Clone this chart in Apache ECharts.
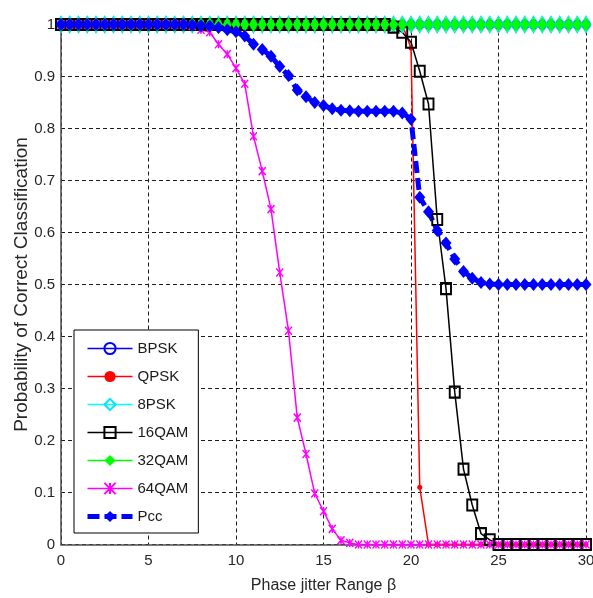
<!DOCTYPE html>
<html>
<head>
<meta charset="utf-8">
<script src="https://cdn.jsdelivr.net/npm/echarts@6/dist/echarts.min.js"></script>
<style>
html,body{margin:0;padding:0;background:#fff;}
#chart{width:593px;height:598px;}
</style>
</head>
<body>
<div id="chart"></div>
<script>
// Phase jitter range (x positions of the data points)
const phaseJitter = [
  0,0.5,1,1.5,2,2.5,3,3.5,4,4.5,
  5,5.5,6,6.5,7,7.5,8,8.5,9,9.5,
  10,10.5,11,11.5,12,12.5,13,13.5,14,14.5,
  15,15.5,16,16.5,17,17.5,18,18.5,19,19.5,
  20,20.5,21,21.5,22,22.5,23,23.5,24,24.5,
  25,25.5,26,26.5,27,27.5,28,28.5,29,29.5,
  30
];
const seriesNames = ['BPSK','QPSK','8PSK','16QAM','32QAM','64QAM','Pcc'];
const bpsk = [
  1,1,1,1,1,1,1,1,1,1,
  1,1,1,1,1,1,1,1,1,1,
  1,1,1,1,1,1,1,1,1,1,
  1,1,1,1,1,1,1,1,1,1,
  1,1,1,1,1,1,1,1,1,1,
  1,1,1,1,1,1,1,1,1,1,
  1
];
const qpsk = [
  1,1,1,1,1,1,1,1,1,1,
  1,1,1,1,1,1,1,1,1,1,
  1,1,1,1,1,1,1,1,1,1,
  1,1,1,1,1,1,1,1,1,1,
  0.955,0.11,0,0,0,0,0,0,0,0,
  0,0,0,0,0,0,0,0,0,0,
  0
];
const psk8 = [
  1,1,1,1,1,1,1,1,1,1,
  1,1,1,1,1,1,1,1,1,1,
  1,1,1,1,1,1,1,1,1,1,
  1,1,1,1,1,1,1,1,1,1,
  1,1,1,1,1,1,1,1,1,1,
  1,1,1,1,1,1,1,1,1,1,
  1
];
const qam16 = [
  1,1,1,1,1,1,1,1,1,1,
  1,1,1,1,1,1,1,1,1,1,
  1,1,1,1,1,1,1,1,1,1,
  1,1,1,1,1,1,1,1,0.995,0.985,
  0.966,0.91,0.847,0.625,0.492,0.293,0.145,0.076,0.021,0.009,
  0,0,0,0,0,0,0,0,0,0,
  0
];
const qam32 = [
  1,1,1,1,1,1,1,1,1,1,
  1,1,1,1,1,1,1,1,1,1,
  1,1,1,1,1,1,1,1,1,1,
  1,1,1,1,1,1,1,1,1,1,
  1,1,1,1,1,1,1,1,1,1,
  1,1,1,1,1,1,1,1,1,1,
  1
];
const qam64 = [
  1,1,1,1,1,1,1,1,1,1,
  1,1,1,1,1,0.997,0.99,0.985,0.962,0.943,
  0.916,0.886,0.785,0.718,0.645,0.523,0.411,0.244,0.174,0.098,
  0.064,0.03,0.008,0.003,0,0,0,0,0,0,
  0,0,0,0,0,0,0,0,0,0,
  0,0,0,0,0,0,0,0,0,0,
  0
];
const pcc = [
  1,1,1,1,1,1,1,1,1,1,
  1,1,1,1,1,0.999,0.998,0.997,0.994,0.99,
  0.986,0.978,0.962,0.952,0.939,0.919,0.902,0.874,0.861,0.85,
  0.844,0.838,0.835,0.834,0.833,0.833,0.833,0.833,0.833,0.83,
  0.818,0.668,0.64,0.604,0.58,0.549,0.525,0.512,0.504,0.501,
  0.5,0.5,0.5,0.5,0.5,0.5,0.5,0.5,0.5,0.5,
  0.5
];
const xTicks = [0,5,10,15,20,25,30];
const yTicks = [0,0.1,0.2,0.3,0.4,0.5,0.6,0.7,0.8,0.9,1];

function pairs(arr){ return phaseJitter.map((x,i)=>[x, arr[i]]); }

const FONT = '"Liberation Sans", Arial, Helvetica, sans-serif';
const chart = echarts.init(document.getElementById('chart'), null, {renderer:'canvas'});

const gridSplit = {show:true, lineStyle:{color:'#1a1a1a', width:1, type:[4,3]}};

chart.setOption({
  animation:false,
  backgroundColor:'#fff',
  textStyle:{fontFamily:FONT},
  grid:{left:61, right:7, top:24.5, bottom:53.5, containLabel:false, outerBoundsMode:'none'},
  legend:{
    data:seriesNames,
    orient:'vertical',
    left:74, top:330,
    itemWidth:45, itemHeight:14, itemGap:13,
    padding:[11,10,9,11],
    backgroundColor:'#fff',
    borderColor:'#000', borderWidth:1,
    lineStyle:{width:'inherit'},
    textStyle:{fontSize:15, color:'#1a1a1a', fontFamily:FONT},
    selectedMode:false
  },
  xAxis:{
    type:'value', min:xTicks[0], max:xTicks[xTicks.length-1], interval:5,
    name:'Phase jitter Range β', nameLocation:'middle', nameGap:33, nameMoveOverlap:false,
    nameTextStyle:{fontSize:16, color:'#262626', fontFamily:FONT},
    axisLine:{show:true, onZero:false, lineStyle:{color:'#4d4d4d', width:1.5}},
    axisTick:{show:false},
    axisLabel:{fontSize:15, color:'#262626', margin:9, fontFamily:FONT},
    splitLine:gridSplit
  },
  yAxis:{
    type:'value', min:yTicks[0], max:yTicks[yTicks.length-1], interval:0.1,
    name:'Probability of Correct Classification', nameLocation:'middle', nameGap:29.5, nameMoveOverlap:false,
    nameTextStyle:{fontSize:19, color:'#262626', fontFamily:FONT},
    axisLine:{show:true, lineStyle:{color:'#4d4d4d', width:1.5}},
    axisTick:{show:false},
    axisLabel:{fontSize:15, color:'#262626', margin:6, fontFamily:FONT,
      formatter:function(v){ return String(Math.round(v*10)/10); }},
    splitLine:gridSplit
  },
  series:[
    {name:'BPSK', type:'line', data:pairs(bpsk), clip:false,
     color:'#0000ff', symbol:'circle', symbolSize:[8,9], showAllSymbol:true,
     lineStyle:{color:'#0000ff', width:1.5},
     itemStyle:{color:'rgba(0,0,0,0)', borderColor:'#0000ff', borderWidth:1.5}},
    {name:'QPSK', type:'line', data:pairs(qpsk), clip:false,
     color:'#ff0000', symbol:'circle', symbolSize:5, showAllSymbol:true,
     lineStyle:{color:'#ff0000', width:1.5},
     itemStyle:{color:'#ff0000'}},
    {name:'8PSK', type:'line', data:pairs(psk8), clip:false,
     color:'#00ffff', symbol:'diamond', symbolSize:[10,17], showAllSymbol:true,
     lineStyle:{color:'#00ffff', width:1.5},
     itemStyle:{color:'rgba(0,0,0,0)', borderColor:'#00e5ff', borderWidth:1}},
    {name:'16QAM', type:'line', data:pairs(qam16), clip:false,
     color:'#000000', symbol:'rect', symbolSize:[10,11], showAllSymbol:true,
     lineStyle:{color:'#000000', width:1.5},
     itemStyle:{color:'rgba(0,0,0,0)', borderColor:'#000000', borderWidth:2}},
    {name:'32QAM', type:'line', data:pairs(qam32), clip:false,
     color:'#00ff00', symbol:'diamond', symbolSize:[9,15], showAllSymbol:true,
     lineStyle:{color:'#00ff00', width:1.5},
     itemStyle:{color:'#00ff00'}},
    {name:'64QAM', type:'line', data:pairs(qam64), clip:false,
     color:'#ff00ff', symbol:'path://M0,0L10,10M0,10L10,0M5,0L5,10', symbolSize:[7,8], showAllSymbol:true,
     lineStyle:{color:'#ff00ff', width:1.5},
     itemStyle:{color:'#ff00ff', borderColor:'#ff00ff', borderWidth:1.5}},
    {name:'Pcc', type:'line', data:pairs(pcc), clip:false,
     color:'#0000ff', symbol:'diamond', symbolSize:[11,13], showAllSymbol:true,
     lineStyle:{color:'#0000ff', width:5, type:[12,5]},
     itemStyle:{color:'#0000ff'}}
  ]
});
</script>
</body>
</html>
